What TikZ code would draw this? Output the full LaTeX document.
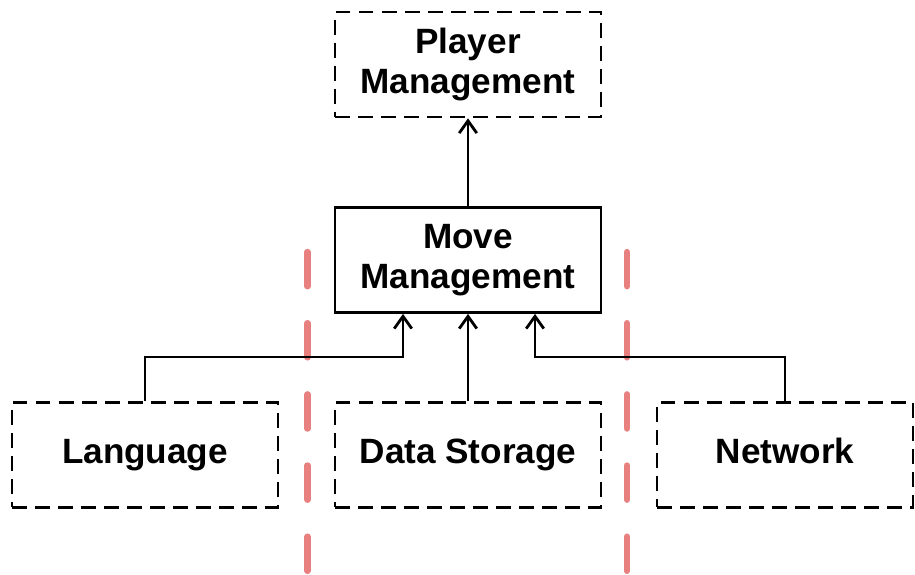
\documentclass[tikz,border=0pt]{standalone}
\usepackage{fontspec}
\setmainfont{Liberation Sans}
\usetikzlibrary{calc, positioning}
\usetikzlibrary{arrows.meta}
\definecolor{splitred}{RGB}{232,128,128}

\begin{document}
\begin{tikzpicture}[x=0.02cm,y=0.02cm,
    box/.style={draw=black, line width=1.6pt, minimum width=5.32cm,
        minimum height=2.1cm, inner sep=0pt, align=center,
        font=\fontsize{20}{23}\selectfont\bfseries},
    dashbox/.style={box, dash pattern=on 8.5pt off 4.6pt},
    onerow/.style={text height=14pt, text depth=4.5pt},
    arr/.style={line width=1.6pt, -{Straight Barb[length=7pt,width=10pt,line width=1.6pt]}},
    split/.style={splitred, line width=3.6pt, line cap=round, dash pattern=on 19.5pt off 21pt}]
\useasboundingbox (0,0) rectangle (915,574);
\def\topy{509.5}
\def\midy{314}
\def\boty{119}

% Module boxes
\node[dashbox] (player) at (468,\topy) {Player\\Management};
\node[box] (move) at (468,\midy) {Move\\Management};
\node[dashbox, onerow] (lang) at (145,\boty) {Language};
\node[dashbox, onerow] (store) at (468,\boty) {Data Storage};
\node[dashbox, onerow, minimum width=5.12cm] (net) at (785,\boty) {Network};

% Red separators
\coordinate (s1top) at (307.5,322);
\coordinate (s1bot) at (307.5,-10);
\coordinate (s2top) at (627,322);
\coordinate (s2bot) at (627,-10);
\draw[split] (s1top) -- (s1bot);
\draw[split] (s2top) -- (s2bot);

% Dependencies
\coordinate (lj) at (403,217);
\coordinate (rj) at (535,217);
\draw[arr] (move.north) -- (player.south);
\draw[arr] (lang.north) |- (lj) -- (lj |- move.south);
\draw[arr] (store.north) -- (move.south);
\draw[arr] (net.north) |- (rj) -- (rj |- move.south);
\end{tikzpicture}
\end{document}
